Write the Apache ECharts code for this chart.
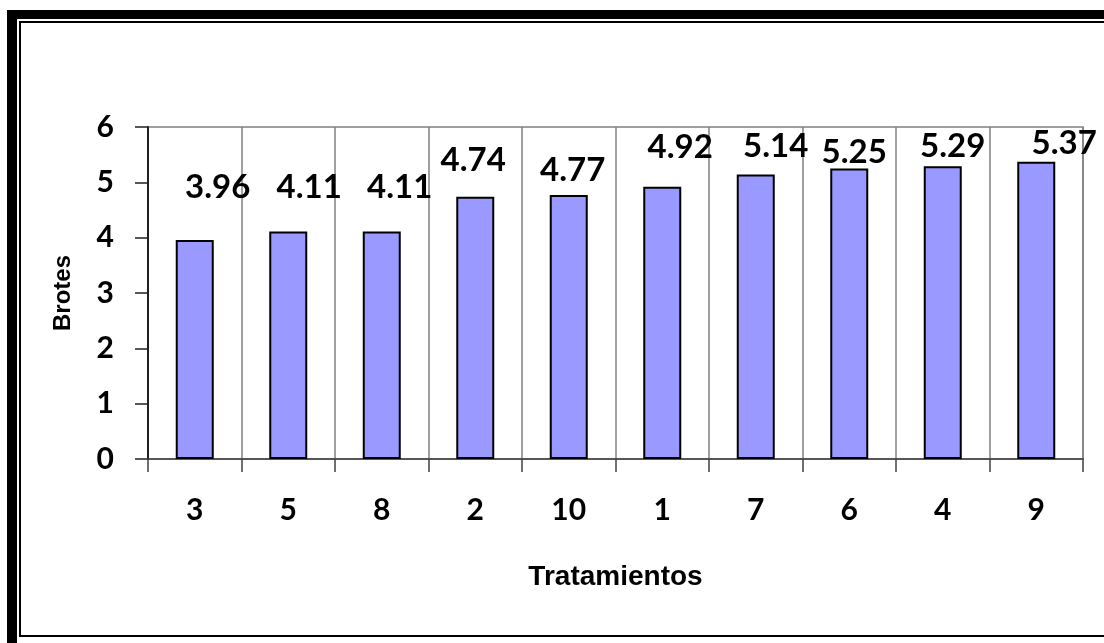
<!DOCTYPE html>
<html>
<head>
<meta charset="utf-8">
<script src="https://cdn.jsdelivr.net/npm/echarts@6/dist/echarts.min.js"></script>
<style>
  html, body { margin: 0; padding: 0; background: #fff; }
  #wrap { position: relative; width: 1104px; height: 643px; overflow: hidden; background: #fff; }
  /* double frame: thick outer rule, thin inner rule */
  #outer { position: absolute; left: 7px; top: 10px; width: 1120px; height: 640px;
           border-left: 10px solid #000; border-top: 9px solid #000; border-bottom: 6px solid #000; box-sizing: border-box; }
  #inner { position: absolute; left: 19px; top: 21px; width: 1110px; height: 616px;
           border-left: 2px solid #000; border-top: 2px solid #000; border-bottom: 2px solid #000; box-sizing: border-box; }
  #chart { position: absolute; left: 0; top: 0; width: 1104px; height: 643px; }
</style>
</head>
<body>
<div id="wrap">
  <div id="outer"></div>
  <div id="inner"></div>
  <div id="chart"></div>
</div>
<script>
// Treatments, ordered by mean number of shoots
const tratamientos = ['3', '5', '8', '2', '10', '1', '7', '6', '4', '9'];
const brotes = [3.96, 4.11, 4.11, 4.74, 4.77, 4.92, 5.14, 5.25, 5.29, 5.37];
const yTicks = [0, 1, 2, 3, 4, 5, 6];

// hand-placed nudges of the value labels [dx, dy] relative to the top of each bar
const labelNudge = [[23, -36], [21, -28], [18, -28], [-2, -20], [4, -8], [18, -23], [20, -12], [5, 0], [10, -3], [28, -2]];

const chart = echarts.init(document.getElementById('chart'), null, { renderer: 'canvas' });

const gridGrey = '#808080';

chart.setOption({
  animation: false,
  backgroundColor: 'transparent',
  grid: { left: 148, right: 21, top: 127, bottom: 184, show: true, borderColor: gridGrey, borderWidth: 1.5, backgroundColor: 'transparent' },
  xAxis: {
    type: 'category',
    data: tratamientos,
    boundaryGap: true,
    name: 'Tratamientos',
    nameLocation: 'middle',
    nameGap: 104,
    nameTextStyle: { fontFamily: 'Liberation Sans', fontWeight: 'bold', fontSize: 28, color: '#000' },
    axisLine: { lineStyle: { color: '#404040', width: 1.5 } },
    axisTick: { show: true, inside: false, length: 13, alignWithLabel: false, lineStyle: { color: '#404040', width: 1.5 } },
    axisLabel: { margin: 36, fontFamily: 'Lato', fontWeight: 'bold', fontSize: 30, color: '#000' },
    splitLine: { show: true, lineStyle: { color: gridGrey, width: 1.5 } }
  },
  yAxis: {
    type: 'value',
    min: yTicks[0],
    max: yTicks[yTicks.length - 1],
    interval: 1,
    name: 'Brotes',
    nameLocation: 'middle',
    nameRotate: 90,
    nameGap: 73,
    nameTextStyle: { fontFamily: 'Liberation Sans', fontWeight: 'bold', fontSize: 24, color: '#000' },
    axisLine: { show: true, lineStyle: { color: '#202020', width: 2 } },
    axisTick: { show: true, inside: false, length: 13, lineStyle: { color: '#202020', width: 1.5 } },
    axisLabel: { margin: 34, fontFamily: 'Lato', fontWeight: 'bold', fontSize: 30, color: '#000' },
    splitLine: { show: false }
  },
  series: [{
    type: 'bar',
    barWidth: 38,
    data: brotes.map((v, i) => ({
      value: v,
      label: { offset: labelNudge[i] }
    })),
    itemStyle: { color: '#9999FF', borderColor: '#000', borderWidth: 2 },
    label: {
      show: true,
      position: 'top',
      distance: 0,
      fontFamily: 'Lato',
      fontWeight: 'bold',
      fontSize: 33,
      lineHeight: 33,
      color: '#000',
      formatter: p => p.value.toFixed(2)
    }
  }]
});
</script>
</body>
</html>
